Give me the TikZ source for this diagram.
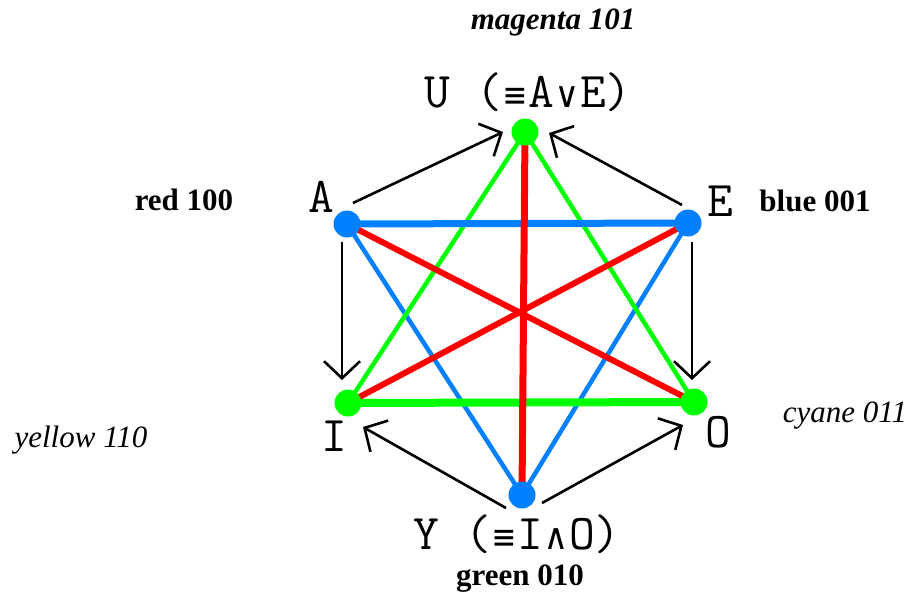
\documentclass[tikz,border=0pt]{standalone}
\usepackage{fontspec}
\setmainfont{Liberation Serif}
\newfontfamily\pixsymfont{DejaVu Sans Mono}
\newcommand\symch[1]{\makebox[0.525em]{\fontsize{36}{36}\pixsymfont #1}}
\usetikzlibrary{arrows.meta}
\definecolor{cblue}{RGB}{0,128,255}
\definecolor{cgreen}{RGB}{0,255,0}
\definecolor{cred}{RGB}{255,0,0}
\begin{document}
\begin{tikzpicture}[x=1pt,y=-1pt,
  dot/.style={circle,inner sep=0pt,minimum size=27pt,fill=#1},
  arr/.style={draw=black,line width=2.6pt,-{Straight Barb[length=17pt,width=36pt,line width=2.6pt]}},
  pixlab/.style={font=\fontsize{50}{50}\selectfont\ttfamily,inner sep=0pt},
  blab/.style={font=\fontsize{31}{31}\selectfont\bfseries,inner sep=0pt},
  ilab/.style={font=\fontsize{31}{31}\selectfont\itshape,inner sep=0pt},
  bilab/.style={font=\fontsize{31}{31}\selectfont\bfseries\itshape,inner sep=0pt}]
\useasboundingbox (0,0) rectangle (912,594);
\fill[white] (0,0) rectangle (912,594);
% vertex positions
\coordinate (U) at (525,132);
\coordinate (A) at (347,224);
\coordinate (E) at (688,223);
\coordinate (I) at (348,403);
\coordinate (O) at (694,402);
\coordinate (Y) at (522,495);
% coloured edges
\draw[cblue,line width=4.5pt] (A) -- (Y);
\draw[cblue,line width=4.5pt] (E) -- (Y);
\draw[cgreen,line width=4.5pt] (U) -- (I);
\draw[cgreen,line width=4.5pt] (U) -- (O);
\draw[cblue,line width=7pt] (A) -- (E);
\draw[cgreen,line width=8pt] (I) -- (O);
\draw[cred,line width=6pt] (A) -- (O);
\draw[cred,line width=6pt] (E) -- (I);
\draw[cred,line width=7pt] (U) -- (Y);
% dots
\node[dot=cgreen] (Ud) at (U) {};
\node[dot=cblue] (Ad) at (A) {};
\node[dot=cblue] (Ed) at (E) {};
\node[dot=cgreen] (Id) at (I) {};
\node[dot=cgreen] (Od) at (O) {};
\node[dot=cblue] (Yd) at (Y) {};
% arrow ends
\coordinate (au1) at (353,203); \coordinate (au2) at (503,132);
\coordinate (eu1) at (682,205); \coordinate (eu2) at (549,133);
\coordinate (ai1) at (342,242); \coordinate (ai2) at (342,380);
\coordinate (eo1) at (692,242); \coordinate (eo2) at (692,380);
\coordinate (yi1) at (506,508); \coordinate (yi2) at (363,427);
\coordinate (yo1) at (542,503); \coordinate (yo2) at (683,425);
\draw[arr] (au1) -- (au2);
\draw[arr] (eu1) -- (eu2);
\draw[arr] (ai1) -- (ai2);
\draw[arr] (eo1) -- (eo2);
\draw[arr] (yi1) -- (yi2);
\draw[arr] (yo1) -- (yo2);
% vertex labels
\node[pixlab] (Ulab) at (528,92) {U (\symch{≡}A\symch{∨}E)};
\node[pixlab] (Alab) at (321,197) {A};
\node[pixlab] (Elab) at (720,201) {E};
\node[pixlab] (Ilab) at (334,436) {I};
\node[pixlab] (Olab) at (718,432) {O};
\node[pixlab] (Ylab) at (517,534) {Y (\symch{≡}I\symch{∧}O)};
% colour labels
\node[bilab] (mag) at (553,22) {magenta 101};
\node[blab] (red) at (184,200) {red 100};
\node[blab] (blu) at (815,201) {blue 001};
\node[ilab] (yel) at (81,440) {yellow 110};
\node[ilab] (cya) at (845,416) {cyane 011};
\node[blab] (gre) at (520,579) {green 010};
\end{tikzpicture}
\end{document}
